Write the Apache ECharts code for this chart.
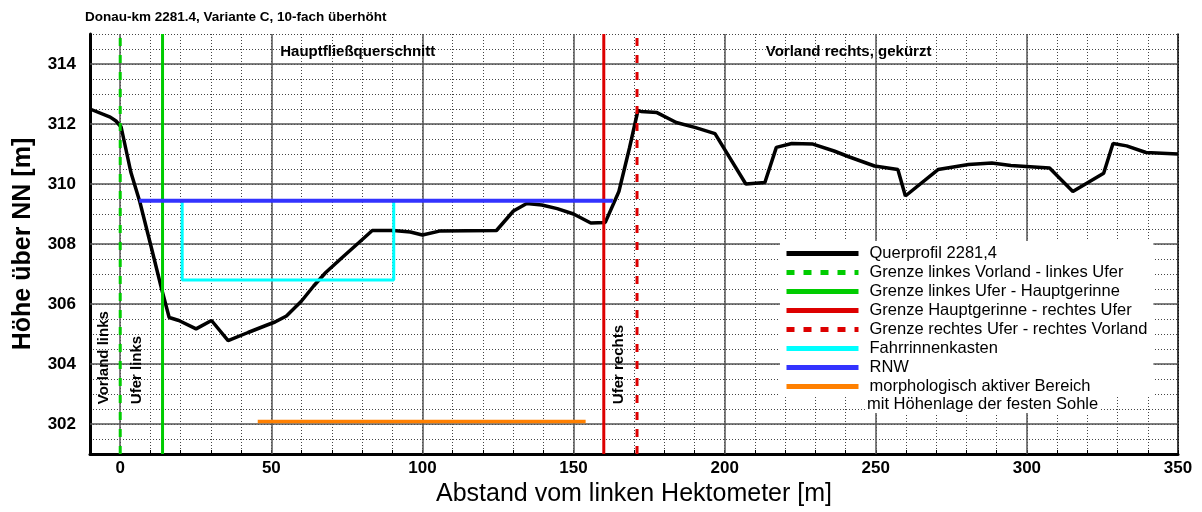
<!DOCTYPE html>
<html>
<head>
<meta charset="utf-8">
<script src="https://cdn.jsdelivr.net/npm/echarts@6/dist/echarts.min.js"></script>
<style>html,body{margin:0;padding:0;background:#fff}#c{width:1202px;height:512px}</style>
</head>
<body>
<div id="c"></div>
<script>
// ---- data ----
const chartTitle = 'Donau-km 2281.4, Variante C, 10-fach überhöht';
const xTickLabels = [0, 50, 100, 150, 200, 250, 300, 350];
const yTickLabels = [302, 304, 306, 308, 310, 312, 314];

const profileX = [-10, -3.3, -1.4, 0.3, 3.5, 6.5, 10.5, 13.7, 16.2, 19.4, 25.1, 30.2, 35.7, 42.3, 48.6, 51.2, 55, 60, 64, 68, 74, 79, 83.4, 90.4, 96, 100, 105.6, 124.5, 130.1, 134.5, 139.5, 144.6, 150, 155.7, 160.5, 165, 168.5, 171.3, 172.3, 177.6, 184, 190.4, 196.8, 207, 213.3, 217.1, 222.2, 229.2, 236.2, 241.3, 249.6, 257.3, 259.8, 270.6, 280.7, 288.4, 294.7, 307.5, 315.2, 325.4, 328.5, 333, 339.4, 350];
const profileY = [312.5, 312.23, 312.1, 311.9, 310.4, 309.4, 307.8, 306.5, 305.55, 305.45, 305.17, 305.45, 304.78, 305.05, 305.3, 305.4, 305.6, 306.1, 306.6, 307.05, 307.6, 308.05, 308.45, 308.45, 308.4, 308.3, 308.43, 308.45, 309.1, 309.35, 309.3, 309.18, 309.0, 308.7, 308.72, 309.75, 311.2, 312.45, 312.42, 312.38, 312.05, 311.88, 311.68, 310.0, 310.05, 311.22, 311.35, 311.33, 311.1, 310.9, 310.6, 310.48, 309.6, 310.48, 310.65, 310.7, 310.62, 310.53, 309.75, 310.36, 311.35, 311.27, 311.05, 311.0];

const yBottom = 301, yTop = 315;
const grenzeLinksVorlandX = [0, 0];
const grenzeLinksHauptX = [14, 14];
const grenzeHauptRechtsX = [160, 160];
const grenzeRechtsVorlandX = [171, 171];
const grenzeY = [yBottom, yTop];

const fahrrinneX = [20.5, 20.5, 90.5, 90.5];
const fahrrinneY = [309.44, 306.8, 306.8, 309.44];
const rnwX = [6.3, 163];
const rnwY = [309.44, 309.44];
const morphX = [45.5, 154];
const morphY = [302.08, 302.08];

const seriesNames = [
  'Querprofil 2281,4',
  'Grenze linkes Vorland - linkes Ufer',
  'Grenze linkes Ufer - Hauptgerinne',
  'Grenze Hauptgerinne - rechtes Ufer',
  'Grenze rechtes Ufer - rechtes Vorland',
  'Fahrrinnenkasten',
  'RNW',
  'morphologisch aktiver Bereich'
];
const legendSecondLine = 'mit Höhenlage der festen Sohle';

const annotations = [
  { text: 'Hauptfließquerschnitt', x: 78.6, y: 314.4, vertical: false },
  { text: 'Vorland rechts, gekürzt', x: 241, y: 314.4, vertical: false },
  { text: 'Vorland links', x: -5.5, y: 302.66, vertical: true },
  { text: 'Ufer links', x: 5.4, y: 302.66, vertical: true },
  { text: 'Ufer rechts', x: 164.9, y: 302.66, vertical: true }
];

// ---- chart ----
const FONT = 'Liberation Sans, Arial, sans-serif';
const zip = (xs, ys) => xs.map((x, i) => [x, ys[i]]);
const chart = echarts.init(document.getElementById('c'), null, { renderer: 'canvas' });

function lineSeries(name, xs, ys, color, width, type, z) {
  return {
    name, type: 'line', data: zip(xs, ys), symbol: 'none', silent: true, animation: false, z: z || 3,
    lineStyle: { color, width, type: type || 'solid' }, itemStyle: { color }
  };
}

const option = {
  animation: false,
  backgroundColor: '#fff',
  textStyle: { fontFamily: FONT },
  grid: { left: 90, right: 24, top: 34, bottom: 57, containLabel: false },
  xAxis: {
    type: 'value', min: -10, max: 350, interval: 10,
    axisLine: { onZero: false, lineStyle: { color: '#000', width: 3 } },
    axisTick: { inside: true, length: 4, lineStyle: { color: '#000', width: 1 } },
    axisLabel: { formatter: v => xTickLabels.includes(v) ? String(v) : '', fontSize: 17, fontWeight: 'bold', color: '#000', margin: 6, fontFamily: FONT },
    splitLine: { show: true, lineStyle: { color: '#444', width: 1, type: [1, 2] } },
    name: 'Abstand vom linken Hektometer [m]', nameLocation: 'middle', nameGap: 28,
    nameTextStyle: { fontSize: 25, color: '#000', fontFamily: FONT }
  },
  yAxis: [{
    type: 'value', min: yBottom, max: yTop, interval: 0.5,
    axisLine: { show: true, onZero: false, lineStyle: { color: '#000', width: 3 } },
    axisTick: { show: false },
    axisLabel: { formatter: v => yTickLabels.includes(v) ? String(v) : '', fontSize: 17, fontWeight: 'bold', color: '#000', margin: 14, fontFamily: FONT },
    splitLine: { show: true, lineStyle: { color: '#444', width: 1, type: [1, 2] } },
    name: 'Höhe über NN [m]', nameLocation: 'middle', nameGap: 54,
    nameTextStyle: { fontSize: 25, fontWeight: 'bold', color: '#000', fontFamily: FONT }
  }, {
    type: 'value', min: yBottom, max: yTop, position: 'right',
    axisLine: { show: true, onZero: false, lineStyle: { color: '#000', width: 1.5 } },
    axisTick: { show: false }, axisLabel: { show: false }, splitLine: { show: false }
  }],
  legend: {
    data: seriesNames, orient: 'vertical', left: 780, top: 241, z: 10,
    itemWidth: 72, itemHeight: 14, itemGap: 2,
    backgroundColor: '#fff', padding: [4, 6, 2, 4],
    selectedMode: false,
    textStyle: { fontSize: 16.5, color: '#000', fontFamily: FONT, padding: [0, 0, 0, 6], lineHeight: 16 },
    lineStyle: { width: 5 },
    itemStyle: { color: 'rgba(0,0,0,0)', borderWidth: 0, opacity: 0 }
  },
  series: [
    {
      name: '_grid', type: 'line', data: [], silent: true, z: 1, symbol: 'none',
      markLine: {
        z: 1, silent: true, symbol: ['none', 'none'], label: { show: false }, animation: false,
        lineStyle: { color: '#555', width: 1.5, type: 'solid' },
        data: xTickLabels.filter(v => v < 350).map(v => ({ xAxis: v })).concat(yTickLabels.map(v => ({ yAxis: v })))
      }
    },
    lineSeries(seriesNames[0], profileX, profileY, '#000', 3.5, 'solid', 3),
    lineSeries(seriesNames[1], grenzeLinksVorlandX, grenzeY, '#00cc00', 3, [8, 9], 4),
    lineSeries(seriesNames[2], grenzeLinksHauptX, grenzeY, '#00cc00', 3, 'solid', 4),
    lineSeries(seriesNames[3], grenzeHauptRechtsX, grenzeY, '#dd0000', 3, 'solid', 4),
    lineSeries(seriesNames[4], grenzeRechtsVorlandX, grenzeY, '#dd0000', 3, [8, 9], 4),
    lineSeries(seriesNames[5], fahrrinneX, fahrrinneY, '#00ffff', 3, 'solid', 5),
    lineSeries(seriesNames[6], rnwX, rnwY, '#3333ff', 4, 'solid', 6),
    lineSeries(seriesNames[7], morphX, morphY, '#ff8000', 3.5, 'solid', 6)
  ]
};
chart.setOption(option);

const graphics = [{
  type: 'text', left: 85, top: 10, z: 20,
  style: { text: chartTitle, font: 'bold 13.5px ' + FONT, fill: '#000' }
}, {
  type: 'text', x: 867, y: 404, z: 20,
  style: { text: legendSecondLine, font: '16.5px ' + FONT, fill: '#000', verticalAlign: 'middle', align: 'left', backgroundColor: '#fff', padding: [0, 2, 1, 0] }
}];
annotations.forEach(a => {
  const p = chart.convertToPixel({ gridIndex: 0 }, [a.x, a.y]);
  graphics.push({
    type: 'text', x: p[0], y: p[1], rotation: a.vertical ? Math.PI / 2 : 0, z: 20,
    style: { text: a.text, font: 'bold 15px ' + FONT, fill: '#000', align: a.vertical ? 'left' : 'center', verticalAlign: 'middle' }
  });
});
chart.setOption({ graphic: graphics });
</script>
</body>
</html>
